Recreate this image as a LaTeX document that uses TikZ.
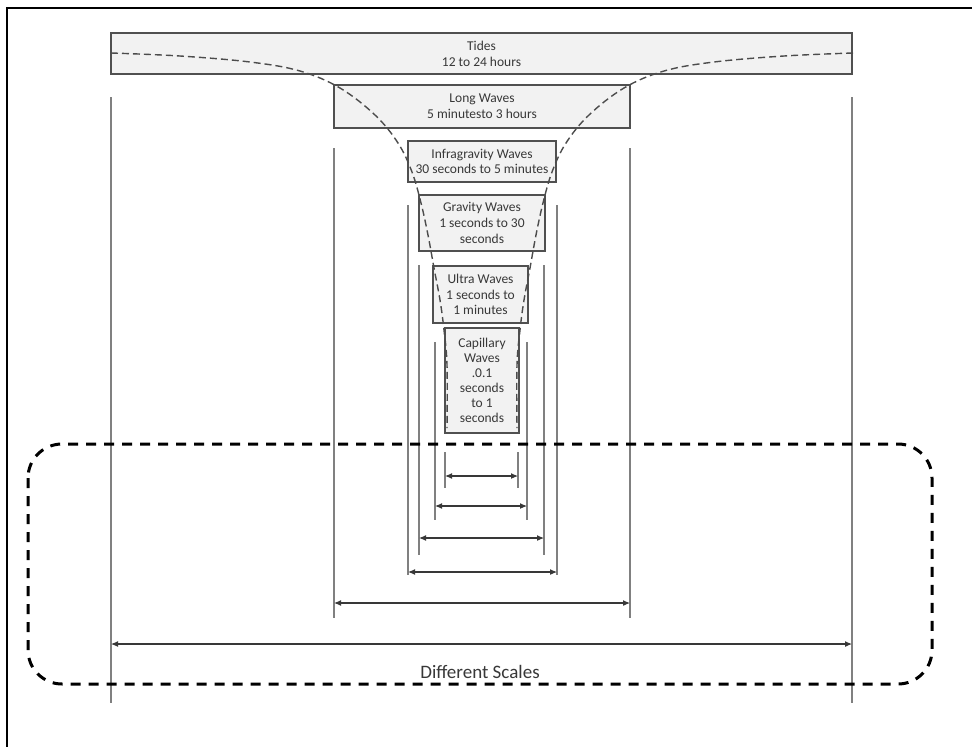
\documentclass[tikz,border=0pt]{standalone}
\usepackage{fontspec}
\setmainfont{Carlito}
\usetikzlibrary{arrows.meta}
\definecolor{boxfill}{HTML}{F2F2F2}
\definecolor{boxline}{HTML}{505050}
\definecolor{vline}{HTML}{808080}
\definecolor{txt}{HTML}{383838}
\begin{document}
\begin{tikzpicture}[x=1pt,y=-1pt,
  wbox/.style={draw=boxline, line width=1.4pt, fill=boxfill, inner sep=0pt, align=center,
    font=\fontsize{13.5}{15.8}\selectfont, text=txt},
  guide/.style={draw=vline, line width=1.6pt},
  dimarrow/.style={draw=black!78, line width=1.1pt, {Latex[length=7pt,width=6pt]}-{Latex[length=7pt,width=6pt]}},
  funnel/.style={draw=black!70, line width=1.4pt, dash pattern=on 7pt off 4pt},
  scalebox/.style={draw=black, line width=3pt, dash pattern=on 10pt off 8pt, rounded corners=34pt}]
\useasboundingbox[fill=white] (0,0) rectangle (972,747);
% outer frame
\draw[line width=2pt] (7,747) -- (7,8) -- (972,8);

% wave boxes
\node[wbox, minimum width=741pt, minimum height=41pt] (tides) at (481.5,53.5) {Tides\\12 to 24 hours};
\node[wbox, minimum width=296pt, minimum height=43pt] (long) at (482,106.5) {Long Waves\\5 minutesto 3 hours};
\node[wbox, minimum width=148pt, minimum height=41pt] (infra) at (482,161.5) {Infragravity Waves\\30 seconds to 5 minutes};
\node[wbox, minimum width=126pt, minimum height=56pt] (grav) at (482,223) {Gravity Waves\\1 seconds to 30\\seconds};
\node[wbox, minimum width=95pt, minimum height=57pt] (ultra) at (480.5,294.5) {Ultra Waves\\1 seconds to\\1 minutes};
\node[wbox, minimum width=74pt, minimum height=105pt, font=\fontsize{13.5}{15}\selectfont] (cap) at (482,380.5) {Capillary\\Waves\\.0.1\\seconds\\to 1\\seconds};

% funnel curves
\draw[funnel] plot[smooth, tension=0.6] coordinates {(111,53) (180,56) (250,62) (300,71) (340,88) (375,115) (398,143) (412,172) (421,203) (428,235) (434,268) (440,300) (444,330) (447,365) (447,428)};
\draw[funnel] plot[smooth, tension=0.6] coordinates {(853,53) (784,56) (714,62) (664,71) (624,88) (589,115) (566,143) (552,172) (543,203) (536,235) (530,268) (524,300) (520,330) (517,365) (517,428)};

% guide lines and scale arrows
\foreach \n/\xl/\xr/\yt/\yb/\ya in {1/445/518/452/488/476, 2/435/527/342/520/506, 3/419/544/265/555/538, 4/408/557/205/575/572, 5/334/630/148/618/603, 6/111/852/97/703/644} {
  \coordinate (gl\n t) at (\xl,\yt);
  \coordinate (gl\n b) at (\xl,\yb);
  \coordinate (gr\n t) at (\xr,\yt);
  \coordinate (gr\n b) at (\xr,\yb);
  \coordinate (al\n) at (\xl,\ya);
  \coordinate (ar\n) at (\xr,\ya);
  \draw[guide] (gl\n t) -- (gl\n b);
  \draw[guide] (gr\n t) -- (gr\n b);
  \draw[dimarrow] (al\n) -- (ar\n);
}

% scales frame
\draw[scalebox] (28,444) rectangle (932,684);
\node[font=\fontsize{19}{22}\selectfont, text=txt, inner sep=0pt] (scales) at (480,672) {Different Scales};
\end{tikzpicture}
\end{document}
